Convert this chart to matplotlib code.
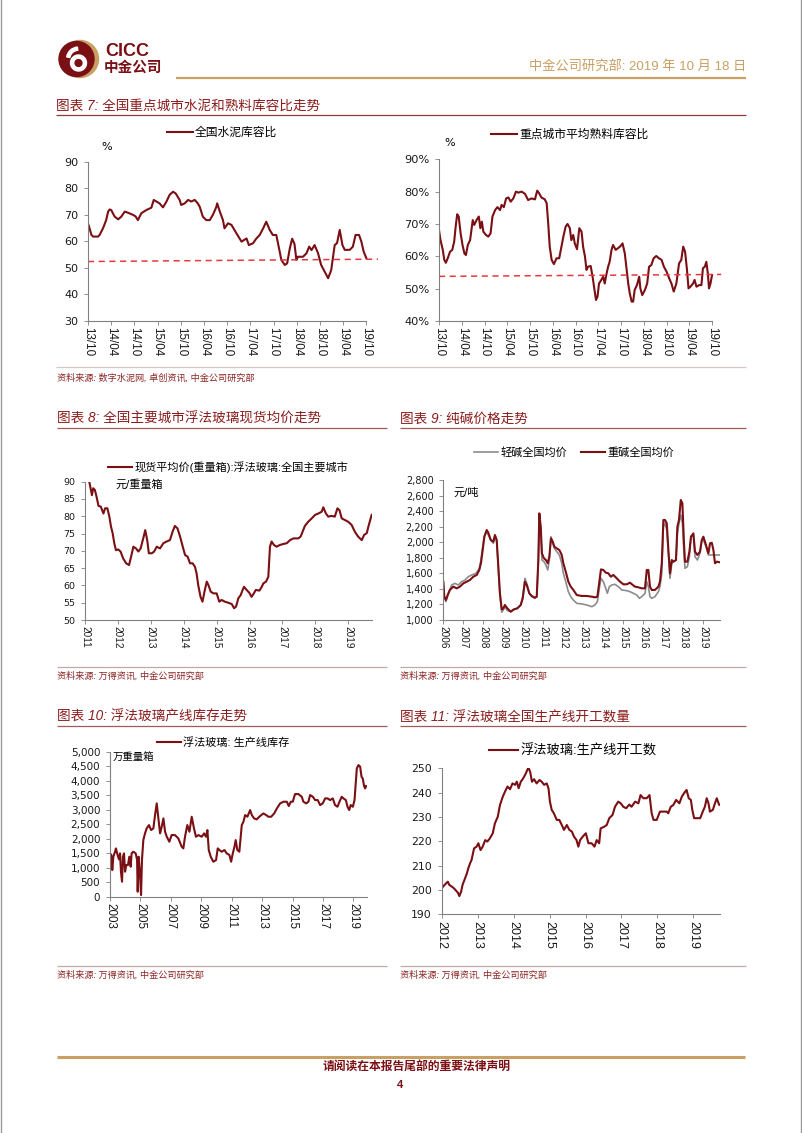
import numpy as np
import matplotlib
matplotlib.use("Agg")
import matplotlib.pyplot as plt
from matplotlib.patches import Circle, Wedge
from matplotlib.ticker import FuncFormatter

plt.rcParams['font.family'] = ['Liberation Sans', 'Noto Sans CJK SC', 'DejaVu Sans']

W, H = 802, 1133
MAROON = '#7a0f14'
GRAY_LINE = '#8c8c8c'
TITLE_RED = '#8b1c1c'
GOLD = '#c9a063'
DASH_RED = '#e8383d'

# ---------------- data ----------------
# chart 7: months since 2013/10
c7_ticks = ['13/10', '14/04', '14/10', '15/04', '15/10', '16/04', '16/10',
            '17/04', '17/10', '18/04', '18/10', '19/04', '19/10']
cement_t = [0, 0.4, 0.9, 1.3, 2.6, 3.0, 3.9, 4.7, 5.2, 5.6, 6.0, 6.9, 7.8, 8.6, 9.5, 10.3,
            11.6, 12.3, 12.9, 13.8, 15.1, 16.4, 17.0, 17.7, 18.5, 19.4, 20.3, 21.1, 22.0,
            22.7, 23.7, 24.1, 25.0, 25.9, 26.7, 27.6, 28.4, 28.9, 29.7, 30.6, 31.5, 32.3,
            33.2, 33.4, 34.1, 34.9, 35.3, 36.2, 37.1, 38.4, 39.7, 41.0, 41.6, 42.7, 43.5,
            44.4, 45.3, 46.1, 47.0, 47.8, 48.7, 49.4, 50.0, 50.9, 51.5, 52.2, 52.8, 53.4,
            53.9, 54.3, 55.6, 56.5, 57.2, 57.8, 58.6, 59.5, 60.3, 61.2, 62.1, 62.9, 63.8,
            64.4, 65.1, 65.8, 66.4, 67.7, 68.5, 69.2, 70.1, 70.7, 71.3, 72.0]
cement_v = [66.8, 64.9, 62.4, 61.8, 61.8, 62.4, 65.0, 68.0, 71.2, 72.0, 71.8, 69.3, 68.3,
            69.3, 71.2, 70.8, 70.0, 69.4, 68.0, 70.6, 71.8, 72.7, 75.6, 75.0, 74.3, 72.8,
            75.0, 77.5, 78.7, 78.0, 75.6, 73.7, 74.3, 75.6, 75.0, 75.6, 74.3, 73.0, 69.3,
            68.0, 68.0, 70.0, 73.0, 74.3, 71.2, 68.0, 64.9, 66.8, 66.2, 63.0, 59.9, 61.1,
            58.6, 59.3, 61.0, 62.4, 64.9, 67.4, 64.3, 62.4, 62.4, 57.4, 53.0, 51.1, 51.7,
            57.4, 61.0, 59.0, 53.0, 54.2, 54.2, 55.5, 58.0, 56.7, 58.6, 55.5, 51.1, 48.6,
            46.1, 49.2, 58.6, 59.3, 64.3, 58.6, 56.8, 56.8, 58.0, 62.4, 62.4, 59.9, 56.1,
            53.6]
cement_trend_t = [0, 75]
cement_trend_v = [52.4, 53.3]

clinker_t = [0, 0.4, 1.0, 1.4, 1.8, 2.3, 2.9, 3.5, 4.0, 4.4, 4.8, 5.2, 5.7, 6.2, 6.7, 7.1,
             7.6, 8.2, 8.9, 9.3, 9.9, 10.5, 10.9, 11.3, 11.7, 12.4, 13.0, 13.6, 14.1, 14.8,
             15.4, 16.1, 16.5, 17.1, 17.7, 18.3, 18.9, 19.6, 20.3, 20.9, 21.8, 22.7, 23.5,
             24.4, 25.3, 25.9, 26.4, 27.0, 27.9, 28.4, 28.8, 29.2, 29.7, 30.3, 31.0, 31.7,
             32.3, 32.8, 33.4, 33.9, 34.5, 34.9, 35.4, 35.8, 36.4, 37.0, 37.6, 38.0, 38.5,
             38.9, 39.3, 40.0, 40.5, 40.9, 41.4, 41.8, 42.2, 42.8, 43.3, 43.7, 44.2, 44.6,
             45.0, 45.5, 45.9, 46.6, 47.2, 47.9, 48.4, 49.0, 49.4, 49.9, 50.3, 50.8, 51.2,
             51.6, 52.2, 52.8, 53.1, 53.6, 54.3, 54.9, 55.4, 56.0, 56.6, 57.3, 58.0, 58.7,
             59.3, 60.0, 60.7, 61.3, 61.9, 62.6, 63.3, 63.9, 64.4, 64.9, 65.4, 65.8, 66.3,
             67.0, 67.4, 67.9, 68.6, 69.2, 69.6, 70.1, 70.5, 70.9, 71.2, 71.6, 72.0]
clinker_v = [68.1, 65.0, 62.0, 58.9, 58.0, 59.4, 61.4, 62.0, 64.5, 69.2, 73.0, 72.3, 67.1,
             63.5, 60.9, 60.4, 63.5, 65.0, 71.2, 69.7, 71.2, 72.3, 68.7, 70.7, 67.6, 66.6,
             66.1, 67.1, 72.3, 74.3, 75.2, 74.3, 75.9, 75.2, 77.9, 78.2, 76.9, 77.9, 80.0,
             79.7, 80.0, 79.3, 77.4, 77.9, 77.6, 80.3, 79.5, 78.2, 77.6, 76.4, 70.2, 63.0,
             58.9, 57.6, 59.4, 59.4, 63.0, 66.1, 69.2, 70.0, 68.7, 65.0, 66.6, 64.0, 62.2,
             68.7, 67.6, 63.0, 59.9, 55.8, 56.8, 57.0, 53.7, 50.6, 46.5, 47.5, 51.6, 52.7,
             53.7, 51.6, 54.7, 56.8, 58.3, 62.0, 63.5, 62.0, 62.5, 63.2, 64.0, 60.9, 56.8,
             51.6, 48.6, 46.0, 46.0, 49.6, 51.1, 53.7, 50.1, 48.0, 49.6, 51.6, 56.8, 57.3,
             59.4, 60.1, 59.4, 58.9, 56.8, 55.3, 53.2, 51.6, 49.1, 51.6, 57.8, 58.9, 63.0,
             61.4, 55.8, 50.1, 50.6, 51.6, 52.7, 50.6, 51.1, 51.1, 56.3, 56.8, 58.3, 54.7,
             50.1, 51.6, 54.2]
clinker_trend_t = [0, 74.4]
clinker_trend_v = [53.8, 54.4]

# chart 8: glass spot price
glass_t = [2011.13, 2011.17, 2011.21, 2011.25, 2011.30, 2011.35, 2011.41, 2011.48, 2011.56,
           2011.61, 2011.68, 2011.74, 2011.79, 2011.84, 2011.89, 2011.94, 2012.01, 2012.08,
           2012.16, 2012.25, 2012.34, 2012.40, 2012.47, 2012.55, 2012.62, 2012.69, 2012.77,
           2012.83, 2012.89, 2012.94, 2013.03, 2013.10, 2013.18, 2013.28, 2013.38, 2013.48,
           2013.58, 2013.66, 2013.73, 2013.81, 2013.89, 2013.97, 2014.04, 2014.12, 2014.19,
           2014.27, 2014.34, 2014.39, 2014.44, 2014.51, 2014.57, 2014.63, 2014.70, 2014.75,
           2014.82, 2014.90, 2015.00, 2015.08, 2015.15, 2015.25, 2015.35, 2015.46, 2015.53,
           2015.59, 2015.66, 2015.73, 2015.79, 2015.83, 2015.91, 2015.99, 2016.06, 2016.13,
           2016.19, 2016.30, 2016.37, 2016.42, 2016.50, 2016.57, 2016.62, 2016.67, 2016.74,
           2016.82, 2016.92, 2017.03, 2017.13, 2017.23, 2017.33, 2017.48, 2017.55, 2017.61,
           2017.68, 2017.78, 2017.89, 2017.99, 2018.09, 2018.19, 2018.24, 2018.32, 2018.39,
           2018.49, 2018.59, 2018.67, 2018.73, 2018.80, 2018.90, 2019.00, 2019.10, 2019.20,
           2019.30, 2019.41, 2019.48, 2019.56, 2019.61, 2019.68, 2019.71]
glass_v = [90.0, 88.1, 86.1, 88.1, 87.6, 85.7, 83.0, 82.8, 80.8, 82.3, 82.3, 79.9, 77.0,
           75.1, 72.2, 70.2, 70.4, 69.8, 67.8, 66.4, 65.9, 68.3, 71.2, 70.7, 69.8, 70.7,
           73.6, 76.0, 73.1, 69.3, 69.3, 69.8, 71.2, 70.7, 72.2, 72.7, 73.1, 75.5, 77.2,
           76.5, 74.1, 71.2, 68.8, 68.3, 66.4, 66.4, 65.4, 63.5, 60.1, 56.7, 55.3, 58.2,
           61.1, 60.1, 58.2, 57.7, 57.7, 55.3, 55.8, 55.3, 55.0, 54.6, 53.4, 53.9, 56.3,
           57.2, 58.7, 59.6, 58.7, 57.9, 56.7, 57.7, 58.7, 58.5, 59.6, 60.6, 61.1, 62.5,
           71.2, 72.7, 71.7, 71.2, 71.7, 72.0, 72.2, 73.1, 73.6, 73.6, 74.1, 75.5, 77.2,
           78.4, 79.4, 80.4, 80.8, 81.3, 82.6, 80.8, 79.9, 80.1, 79.9, 82.3, 81.8, 79.4,
           78.9, 78.4, 77.5, 75.5, 74.1, 73.1, 74.6, 75.1, 77.0, 79.4, 80.4]

# chart 9: soda ash (heavy / light)
heavy_t = [2006.0, 2006.05, 2006.13, 2006.22, 2006.33, 2006.5, 2006.67, 2006.83, 2007.0,
           2007.17, 2007.33, 2007.5, 2007.67, 2007.8, 2007.88, 2007.97, 2008.05, 2008.17,
           2008.25, 2008.37, 2008.5, 2008.58, 2008.67, 2008.75, 2008.83, 2008.92, 2009.0,
           2009.08, 2009.2, 2009.37, 2009.53, 2009.7, 2009.87, 2009.97, 2010.08, 2010.17,
           2010.3, 2010.42, 2010.58, 2010.67, 2010.75, 2010.8, 2010.87, 2010.93, 2011.03,
           2011.13, 2011.22, 2011.3, 2011.38, 2011.47, 2011.55, 2011.67, 2011.8, 2011.92,
           2012.0, 2012.12, 2012.25, 2012.37, 2012.5, 2012.67, 2012.92, 2013.17, 2013.42,
           2013.58, 2013.7, 2013.8, 2013.88, 2014.0, 2014.12, 2014.25, 2014.37, 2014.5,
           2014.67, 2014.83, 2015.0, 2015.17, 2015.33, 2015.47, 2015.58, 2015.75, 2015.92,
           2016.08, 2016.17, 2016.25, 2016.33, 2016.42, 2016.58, 2016.75, 2016.83, 2016.92,
           2017.0, 2017.08, 2017.17, 2017.25, 2017.33, 2017.42, 2017.5, 2017.63, 2017.7,
           2017.78, 2017.87, 2017.95, 2018.03, 2018.08, 2018.2, 2018.3, 2018.38, 2018.5,
           2018.58, 2018.7, 2018.83, 2018.92, 2019.0, 2019.13, 2019.25, 2019.33, 2019.42,
           2019.5, 2019.58, 2019.67, 2019.8]
heavy_v = [1493, 1300, 1257, 1321, 1386, 1429, 1407, 1429, 1471, 1493, 1514, 1557, 1579,
           1643, 1729, 1900, 2071, 2157, 2123, 2029, 2007, 2093, 2029, 1686, 1343, 1137,
           1150, 1193, 1150, 1107, 1137, 1150, 1193, 1279, 1493, 1450, 1343, 1309, 1287,
           1300, 1771, 2371, 2200, 1857, 1793, 1771, 1729, 1814, 2050, 2007, 1943, 1921,
           1900, 1836, 1729, 1621, 1493, 1429, 1386, 1321, 1309, 1309, 1300, 1291, 1300,
           1493, 1651, 1643, 1609, 1600, 1557, 1579, 1536, 1493, 1459, 1459, 1480, 1450,
           1429, 1420, 1407, 1407, 1643, 1643, 1429, 1386, 1386, 1429, 1493, 1729, 2286,
           2286, 2243, 1900, 1600, 1771, 1750, 1771, 2200, 2286, 2543, 2500, 1986, 1750,
           1750, 1879, 2071, 2114, 1879, 1836, 1879, 2029, 2071, 1964, 1857, 1986, 1993,
           1900, 1729, 1750, 1743]
light_t = [2006.0, 2006.05, 2006.13, 2006.25, 2006.42, 2006.58, 2006.75, 2006.92, 2007.08,
           2007.25, 2007.42, 2007.63, 2007.8, 2007.88, 2007.97, 2008.05, 2008.17, 2008.25,
           2008.37, 2008.5, 2008.58, 2008.67, 2008.75, 2008.83, 2008.92, 2009.0, 2009.08,
           2009.2, 2009.37, 2009.53, 2009.7, 2009.87, 2009.97, 2010.08, 2010.17, 2010.3,
           2010.42, 2010.58, 2010.67, 2010.75, 2010.8, 2010.87, 2010.93, 2011.03, 2011.13,
           2011.22, 2011.3, 2011.38, 2011.47, 2011.55, 2011.67, 2011.8, 2011.92, 2012.0,
           2012.12, 2012.25, 2012.37, 2012.5, 2012.67, 2012.92, 2013.17, 2013.42, 2013.58,
           2013.7, 2013.8, 2013.88, 2014.0, 2014.12, 2014.2, 2014.3, 2014.42, 2014.58,
           2014.75, 2014.92, 2015.17, 2015.33, 2015.5, 2015.67, 2015.8, 2015.92, 2016.08,
           2016.17, 2016.25, 2016.33, 2016.42, 2016.58, 2016.75, 2016.83, 2016.92, 2017.0,
           2017.08, 2017.17, 2017.25, 2017.33, 2017.42, 2017.5, 2017.63, 2017.7, 2017.78,
           2017.87, 2017.95, 2018.03, 2018.08, 2018.2, 2018.3, 2018.38, 2018.5, 2018.58,
           2018.7, 2018.83, 2018.92, 2019.0, 2019.13, 2019.25, 2019.42, 2019.58, 2019.8]
light_v = [1493, 1300, 1236, 1343, 1450, 1471, 1450, 1493, 1514, 1557, 1579, 1600, 1664,
           1771, 1943, 2071, 2136, 2093, 2029, 1986, 2071, 2007, 1664, 1321, 1100, 1129,
           1171, 1121, 1107, 1137, 1150, 1193, 1300, 1536, 1471, 1343, 1300, 1279, 1300,
           1729, 2350, 2157, 1771, 1750, 1707, 1643, 1771, 2071, 1986, 1921, 1879, 1836,
           1729, 1600, 1493, 1364, 1300, 1257, 1214, 1207, 1193, 1171, 1193, 1236, 1407,
           1536, 1493, 1407, 1343, 1429, 1450, 1459, 1429, 1386, 1377, 1364, 1343, 1321,
           1279, 1300, 1343, 1493, 1429, 1300, 1279, 1300, 1364, 1429, 1600, 2200, 2243,
           2157, 1857, 1536, 1729, 1750, 1771, 2114, 2243, 2350, 2243, 1857, 1664, 1686,
           1814, 2071, 2093, 1814, 1771, 1857, 2029, 2029, 1943, 1836, 1836, 1836, 1836]

# chart 10: glass inventory (10k weight boxes)
stock_t = [2003.0, 2003.09, 2003.15, 2003.22, 2003.33, 2003.39, 2003.5, 2003.59, 2003.66,
           2003.72, 2003.79, 2003.85, 2003.92, 2003.99, 2004.07, 2004.18, 2004.27, 2004.36,
           2004.42, 2004.53, 2004.69, 2004.78, 2004.82, 2004.88, 2004.97, 2005.04, 2005.1,
           2005.19, 2005.3, 2005.41, 2005.56, 2005.7, 2005.85, 2005.96, 2006.07, 2006.18,
           2006.29, 2006.4, 2006.51, 2006.62, 2006.73, 2006.9, 2007.05, 2007.27, 2007.49,
           2007.71, 2007.82, 2007.93, 2008.08, 2008.22, 2008.37, 2008.52, 2008.65, 2008.81,
           2009.03, 2009.18, 2009.31, 2009.4, 2009.49, 2009.62, 2009.79, 2009.97, 2010.08,
           2010.19, 2010.34, 2010.52, 2010.67, 2010.85, 2010.96, 2011.07, 2011.18, 2011.26,
           2011.37, 2011.5, 2011.66, 2011.77, 2011.88, 2012.03, 2012.21, 2012.32, 2012.47,
           2012.64, 2012.86, 2013.08, 2013.26, 2013.41, 2013.59, 2013.79, 2013.97, 2014.18,
           2014.4, 2014.62, 2014.75, 2014.88, 2015.01, 2015.16, 2015.38, 2015.6, 2015.71,
           2015.89, 2016.04, 2016.15, 2016.33, 2016.48, 2016.65, 2016.81, 2016.98, 2017.14,
           2017.29, 2017.47, 2017.64, 2017.79, 2017.95, 2018.08, 2018.23, 2018.34, 2018.5,
           2018.61, 2018.72, 2018.82, 2018.96, 2019.07, 2019.15, 2019.22, 2019.33, 2019.44,
           2019.53, 2019.61, 2019.7, 2019.77, 2019.83]
stock_v = [1494, 1436, 919, 1379, 1551, 1666, 1436, 1287, 1494, 862, 517, 1379, 1494, 862,
           1092, 1092, 1379, 1034, 1494, 1551, 1494, 1264, 172, 1379, 804, 57, 1264, 1953,
           2183, 2355, 2470, 2298, 2355, 2815, 3217, 2700, 2183, 2413, 2700, 2240, 2068,
           1896, 2125, 2125, 2011, 1724, 1666, 2068, 2470, 2240, 2757, 2355, 2068, 2125,
           2068, 2183, 2068, 2298, 1609, 1379, 1206, 1264, 1666, 1609, 1551, 1609, 1494,
           1436, 1206, 1494, 1724, 1953, 1609, 1551, 2470, 2585, 2815, 2757, 2987, 2815,
           2700, 2666, 2780, 2872, 2815, 2757, 2757, 2872, 3045, 3217, 3275, 3275, 3125,
           3275, 3275, 3539, 3539, 3447, 3275, 3217, 3275, 3505, 3447, 3332, 3332, 3160,
           3217, 3390, 3390, 3332, 3390, 3160, 3102, 3275, 3447, 3390, 3332, 3102, 2987,
           3160, 3102, 3332, 3907, 4424, 4539, 4481, 4136, 4079, 3815, 3734, 3815]

# chart 11: production lines in operation
lines_t = [2012.0, 2012.05, 2012.12, 2012.17, 2012.21, 2012.28, 2012.34, 2012.4, 2012.45,
           2012.49, 2012.54, 2012.58, 2012.65, 2012.7, 2012.74, 2012.79, 2012.83, 2012.9,
           2012.97, 2013.02, 2013.08, 2013.14, 2013.21, 2013.27, 2013.34, 2013.42, 2013.48,
           2013.56, 2013.62, 2013.7, 2013.76, 2013.83, 2013.9, 2013.97, 2014.04, 2014.09,
           2014.14, 2014.2, 2014.25, 2014.32, 2014.36, 2014.41, 2014.46, 2014.51, 2014.57,
           2014.64, 2014.72, 2014.78, 2014.85, 2014.92, 2014.97, 2015.01, 2015.06, 2015.12,
           2015.2, 2015.27, 2015.34, 2015.4, 2015.48, 2015.55, 2015.62, 2015.68, 2015.75,
           2015.8, 2015.85, 2015.92, 2016.01, 2016.08, 2016.17, 2016.25, 2016.31, 2016.38,
           2016.42, 2016.52, 2016.59, 2016.66, 2016.75, 2016.82, 2016.91, 2016.98, 2017.05,
           2017.13, 2017.22, 2017.28, 2017.38, 2017.47, 2017.53, 2017.61, 2017.7, 2017.78,
           2017.84, 2017.89, 2017.98, 2018.07, 2018.17, 2018.26, 2018.3, 2018.37, 2018.44,
           2018.52, 2018.61, 2018.68, 2018.77, 2018.81, 2018.87, 2018.93, 2018.97, 2019.02,
           2019.09, 2019.19, 2019.26, 2019.32, 2019.37, 2019.42, 2019.46, 2019.54, 2019.6,
           2019.65, 2019.7, 2019.72]
lines_v = [200.7, 201.6, 202.7, 203.4, 202.1, 201.4, 200.7, 199.7, 198.9, 197.5, 199.3,
           202.1, 204.8, 206.8, 208.9, 211.0, 212.3, 217.1, 217.8, 219.2, 216.4, 217.8,
           220.5, 219.9, 221.2, 223.3, 227.4, 230.1, 234.9, 238.4, 240.4, 242.5, 241.4,
           243.8, 243.2, 244.5, 241.8, 244.5, 245.5, 247.3, 248.6, 250.3, 248.6, 244.5,
           245.5, 243.8, 245.2, 244.5, 243.2, 243.8, 241.8, 236.3, 232.9, 231.5, 228.8,
           228.8, 226.7, 224.7, 226.7, 224.7, 224.0, 221.9, 220.5, 217.8, 220.5, 221.9,
           223.3, 219.2, 219.2, 217.8, 220.5, 219.2, 225.3, 226.0, 226.7, 229.5, 230.8,
           234.2, 236.3, 235.6, 234.2, 233.6, 235.1, 234.2, 236.3, 235.6, 239.0, 237.7,
           237.7, 239.0, 231.5, 228.8, 228.8, 232.2, 232.2, 232.2, 231.5, 234.2, 234.9,
           237.0, 235.6, 238.4, 240.4, 241.1, 237.7, 237.0, 232.9, 229.5, 229.5, 229.5,
           232.2, 234.2, 237.7, 235.6, 232.2, 232.9, 235.6, 237.7, 235.6, 235.0]

# ---------------- figure ----------------
fig = plt.figure(figsize=(W / 100, H / 100), dpi=100)
fig.patch.set_facecolor('white')

# page layer in pixel coordinates (for header, titles, rules)
page = fig.add_axes([0, 0, 1, 1], zorder=0)
page.set_xlim(0, W)
page.set_ylim(H, 0)
page.axis('off')


def box(l, t, r, b):
    ax = fig.add_axes([l / W, 1 - b / H, (r - l) / W, (b - t) / H], zorder=2)
    ax.patch.set_alpha(0)
    return ax


def style(ax, yfs, xfs):
    for s in ['top', 'right']:
        ax.spines[s].set_visible(False)
    for s in ['left', 'bottom']:
        ax.spines[s].set_color('#808080')
        ax.spines[s].set_linewidth(0.8)
    ax.tick_params(length=3, width=0.6, color='#808080', labelcolor='#1a1a1a')
    # y labels look horizontally wide in the source -> DejaVu Sans
    ax.tick_params(axis='y', labelsize=yfs, pad=4, labelfontfamily='DejaVu Sans')
    ax.tick_params(axis='x', labelsize=xfs, pad=1.5, labelrotation=-90)


def legend(ax, handles_labels, x, y, fs, ncol=1):
    hs, ls = handles_labels
    ax.legend(hs, ls, loc='center', bbox_to_anchor=(x, y), bbox_transform=page.transData,
              frameon=False, fontsize=fs, handlelength=2.2, handletextpad=0.2,
              ncol=ncol, columnspacing=1.2, borderaxespad=0, borderpad=0)


def hline(y, x0, x1, color, lw):
    page.plot([x0, x1], [y, y], color=color, lw=lw, solid_capstyle='butt')


# page border
page.plot([0.5, 0.5], [0, H], color='#9a9a9a', lw=1)
page.plot([800.5, 800.5], [0, H], color='#9a9a9a', lw=1)

# logo
page.add_patch(Circle((80, 59), 18.5, color=GOLD))
page.add_patch(Circle((76.5, 59), 17.5, color=MAROON))
page.add_patch(Wedge((78.5, 63), 8, 0, 360, width=3.2, color='white'))
page.add_patch(Wedge((78.5, 59), 12, 190, 265, width=3.2, color='white'))
page.text(105, 52, 'CICC', fontsize=13, fontweight='bold', color=MAROON, va='center')
page.text(104, 68, '中金公司', fontsize=10.5, fontweight='bold', color=MAROON, va='center')
page.text(746, 66, '中金公司研究部: 2019 年 10 月 18 日', fontsize=9.5, color=GOLD,
          ha='right', va='center')
hline(78, 176, 746, GOLD, 1.6)

# section titles / rules / sources
tkw = dict(fontsize=9.8, color=TITLE_RED, style='italic', va='center')
skw = dict(fontsize=6.6, color='#8b2525', style='italic', va='center')
page.text(56, 106, '图表 7: 全国重点城市水泥和熟料库容比走势', **tkw)
hline(115, 56, 746, '#8b3a3a', 0.9)
hline(367, 56, 746, '#d9c6c6', 0.9)
page.text(57, 378, '资料来源: 数字水泥网, 卓创资讯, 中金公司研究部', **skw)

page.text(57, 419, '图表 8: 全国主要城市浮法玻璃现货均价走势', **tkw)
page.text(400, 419, '图表 9: 纯碱价格走势', **tkw)
hline(428, 57, 387, '#a05a5a', 0.9)
hline(428, 400, 746, '#a05a5a', 0.9)
hline(667, 57, 387, '#c4a8a8', 0.9)
hline(667, 400, 746, '#c4a8a8', 0.9)
page.text(57, 676, '资料来源: 万得资讯, 中金公司研究部', **skw)
page.text(400, 676, '资料来源: 万得资讯, 中金公司研究部', **skw)

page.text(57, 717, '图表 10: 浮法玻璃产线库存走势', **tkw)
page.text(400, 717, '图表 11: 浮法玻璃全国生产线开工数量', **tkw)
hline(726, 57, 387, '#a05a5a', 0.9)
hline(726, 400, 746, '#a05a5a', 0.9)
hline(966, 57, 387, '#c4a8a8', 0.9)
hline(966, 400, 746, '#c4a8a8', 0.9)
page.text(57, 975, '资料来源: 万得资讯, 中金公司研究部', **skw)
page.text(400, 975, '资料来源: 万得资讯, 中金公司研究部', **skw)

# footer
hline(1057, 57, 745, GOLD, 2.2)
page.text(417, 1068, '请阅读在本报告尾部的重要法律声明', fontsize=8.5, color=MAROON,
          fontweight='bold', style='italic', ha='center', va='center')
page.text(400, 1085, '4', fontsize=8, color=MAROON, fontweight='bold', ha='center',
          va='center')

# ---- chart 7 left: cement ----
ax = box(88, 161.7, 378, 321)
style(ax, 8, 8.4)
l1, = ax.plot(cement_t, cement_v, color=MAROON, lw=1.5)
ax.plot(cement_trend_t, cement_trend_v, color=DASH_RED, lw=1.1, ls=(0, (4, 3)))
ax.set_xlim(0, 75)
ax.set_ylim(30, 90)
ax.set_yticks(range(30, 91, 10))
ax.set_xticks(range(0, 73, 6))
ax.set_xticklabels(c7_ticks)
ax.spines['bottom'].set_bounds(0, 72)
legend(ax, ([l1], ['全国水泥库容比']), 222, 133, 8.5)
page.text(101, 147, '%', fontsize=8, va='center', family='DejaVu Sans')

# ---- chart 7 right: clinker ----
ax = box(439, 159.3, 721.5, 321)
style(ax, 8.2, 8.4)
l1, = ax.plot(clinker_t, clinker_v, color=MAROON, lw=1.5)
ax.plot(clinker_trend_t, clinker_trend_v, color=DASH_RED, lw=1.1, ls=(0, (4, 3)))
ax.set_xlim(0, 74.5)
ax.set_ylim(40, 90)
ax.set_yticks(range(40, 91, 10))
ax.yaxis.set_major_formatter(FuncFormatter(lambda v, p: f'{v:.0f}%'))
ax.set_xticks(range(0, 73, 6))
ax.set_xticklabels(c7_ticks)
ax.spines['bottom'].set_bounds(0, 72)
legend(ax, ([l1], ['重点城市平均熟料库容比']), 570, 135, 8.5)
page.text(444, 143, '%', fontsize=8, va='center', family='DejaVu Sans')

# ---- chart 8: glass price ----
ax = box(85, 481.7, 372, 620)
style(ax, 6.8, 7.2)
l1, = ax.plot(glass_t, glass_v, color=MAROON, lw=1.5)
ax.set_xlim(2011, 2019.72)
ax.set_ylim(50, 90)
ax.set_yticks(range(50, 91, 5))
ax.set_xticks(range(2011, 2020))
legend(ax, ([l1], ['现货平均价(重量箱):浮法玻璃:全国主要城市']), 228, 467, 8)
page.text(115, 485, '元/重量箱', fontsize=8, va='center')

# ---- chart 9: soda ash ----
ax = box(443.3, 480, 720, 620)
style(ax, 7, 7.2)
l_light, = ax.plot(light_t, light_v, color=GRAY_LINE, lw=1.2)
l_heavy, = ax.plot(heavy_t, heavy_v, color=MAROON, lw=1.5)
ax.set_xlim(2006, 2019.83)
ax.set_ylim(1000, 2800)
ax.set_yticks(range(1000, 2801, 200))
ax.yaxis.set_major_formatter(FuncFormatter(lambda v, p: f'{v:,.0f}'))
ax.set_xticks(range(2006, 2020))
legend(ax, ([l_light, l_heavy], ['轻碱全国均价', '重碱全国均价']), 574, 453, 8, ncol=2)
page.text(453, 493, '元/吨', fontsize=8, va='center')

# ---- chart 10: glass inventory ----
ax = box(110, 751.7, 366.7, 896.7)
style(ax, 7.5, 8.4)
l1, = ax.plot(stock_t, stock_v, color=MAROON, lw=1.5)
ax.set_xlim(2003, 2019.87)
ax.set_ylim(0, 5000)
ax.set_yticks(range(0, 5001, 500))
ax.yaxis.set_major_formatter(FuncFormatter(lambda v, p: f'{v:,.0f}'))
ax.set_xticks(range(2003, 2020, 2))
legend(ax, ([l1], ['浮法玻璃: 生产线库存']), 223, 742, 8)
page.text(113, 757, '万重量箱', fontsize=7.5, va='center')

# ---- chart 11: production lines ----
ax = box(441.7, 768.3, 720, 914.3)
style(ax, 7.8, 9)
l1, = ax.plot(lines_t, lines_v, color=MAROON, lw=1.5)
ax.set_xlim(2012, 2019.74)
ax.set_ylim(190, 250)
ax.set_yticks(range(190, 251, 10))
ax.set_xticks(range(2012, 2020))
legend(ax, ([l1], ['浮法玻璃:生产线开工数']), 573, 751, 9.5)

fig.savefig('out.png', dpi=100, facecolor='white')
